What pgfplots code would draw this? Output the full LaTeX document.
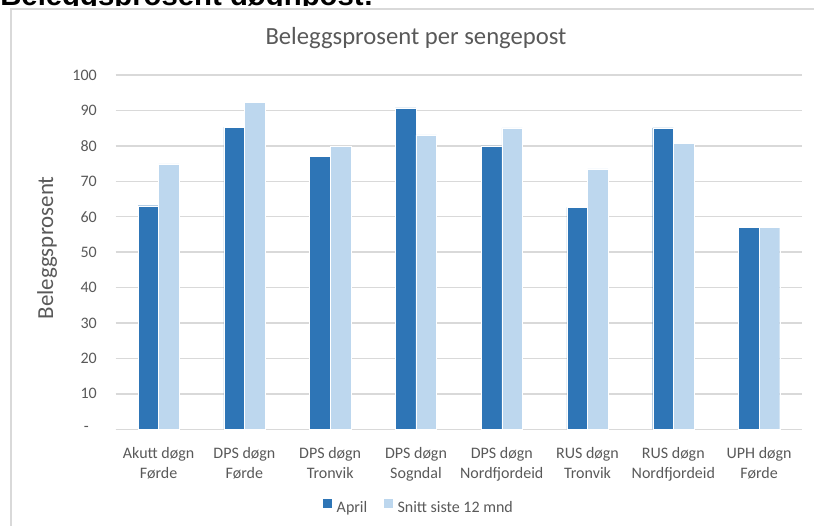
\documentclass[border=0pt]{standalone}
\usepackage{pgfplots}
\pgfplotsset{compat=1.18}
\usepackage{fontspec}
\setmainfont{Carlito}
\newfontfamily\arialfont{Liberation Sans}
\definecolor{aprilc}{HTML}{2E75B6}
\definecolor{snittc}{HTML}{BDD7EE}
\definecolor{gridc}{HTML}{D9D9D9}
\definecolor{textc}{HTML}{595959}
\begin{document}
\begin{tikzpicture}[x=0.75pt,y=0.75pt]
\useasboundingbox (0,0) rectangle (814,525);
\begin{scope}
\clip (0,519) rectangle (814,526);
\node[anchor=base west, inner sep=0pt, font=\arialfont\bfseries\fontsize{22}{26}\selectfont] at (0,519.5) {Beleggsprosent døgnpost:};
\end{scope}
\draw[gridc, line width=1.1pt] (11,-2) -- (11,516) -- (816,516);
\node[anchor=base, inner sep=0pt, text=textc, font=\fontsize{18.5}{22}\selectfont] at (416,480) {Beleggsprosent per sengepost};
\begin{axis}[
  at={(86.8pt,71.8pt)}, anchor=south west,
  scale only axis, width=514.7pt, height=265.7pt,
  ymin=0, ymax=100, xmin=-0.5, xmax=7.5,
  ytick={0,10,20,30,40,50,60,70,80,90,100},
  yticklabels={-\hphantom{0},10,20,30,40,50,60,70,80,90,100},
  xtick={0,1,2,3,4,5,6,7},
  xticklabels={{Akutt døgn\\Førde},{DPS døgn\\Førde},{DPS døgn\\Tronvik},{DPS døgn\\Sogndal},{DPS døgn\\Nordfjordeid},{RUS døgn\\Tronvik},{RUS døgn\\Nordfjordeid},{UPH døgn\\Førde}},
  ybar=0pt, bar width=15.45pt,
  axis x line*=bottom, axis y line*=left,
  y axis line style={draw=none},
  x axis line style={gridc, line width=1pt, -},
  major tick length=0pt,
  ymajorgrids, grid style={gridc, line width=1pt},
  tick label style={textc, font=\fontsize{12}{14.6}\selectfont},
  yticklabel style={anchor=east, inner sep=0pt, xshift=-14pt},
  xticklabel style={anchor=north, inner sep=0pt, yshift=-13.5pt, align=center},
  ylabel={Beleggsprosent},
  ylabel style={at={(axis description cs:-0.1,0.512)}, anchor=center, rotate=0, textc, font=\fontsize{17.2}{20}\selectfont},
  legend image code/.code={\fill[#1,draw=none] (0pt,0pt) rectangle (6.75pt,6.75pt); \path (8.5pt,0pt);},
  legend style={at={(axis description cs:0.442,-0.222)}, anchor=center, draw=none, fill=none,
    legend columns=-1, font=\fontsize{12}{14.6}\selectfont, text=textc,
    /tikz/every even column/.append style={column sep=11pt},
    nodes={inner sep=1.5pt}},
]
\addplot[fill=aprilc, draw=white, line width=0.3pt] coordinates {(0,63.1) (1,85.3) (2,77.1) (3,90.7) (4,80.0) (5,62.6) (6,85.1) (7,56.9)};
\addplot[fill=snittc, draw=white, line width=0.3pt] coordinates {(0,74.9) (1,92.2) (2,79.8) (3,83.1) (4,85.1) (5,73.5) (6,80.8) (7,56.9)};
\legend{April,Snitt siste 12 mnd}
\end{axis}
\end{tikzpicture}
\end{document}
